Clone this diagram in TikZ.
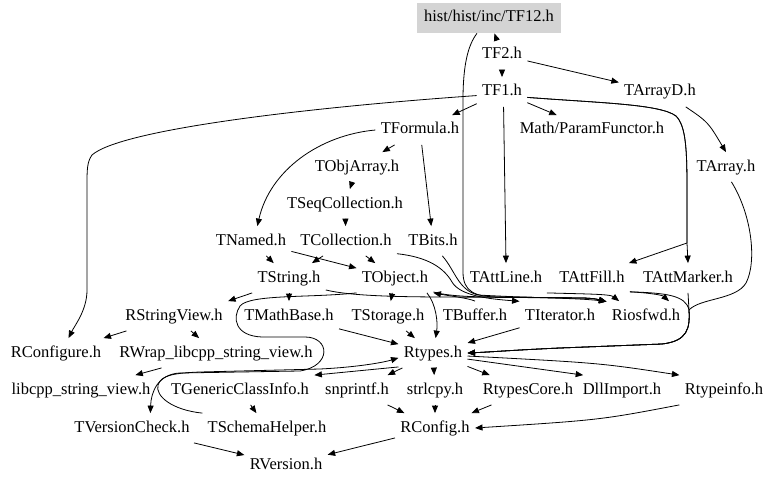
\documentclass[tikz,border=0pt]{standalone}
\usepackage{fontspec}
\setmainfont{Liberation Serif}
\usetikzlibrary{arrows.meta,positioning}
\tikzset{
    %Define standard arrow tip
    >={Triangle[length=7.5pt,width=6pt]},
    %Define style for header boxes
    file/.style={
           rectangle,
           inner xsep=5pt,
           inner ysep=0pt,
           text height=11.5pt,
           text depth=3.5pt,
           minimum height=29pt,
           font=\fontsize{16.5}{18}\selectfont,
           text centered},
    top file/.style={
           file,
           fill=black!17,
           minimum width=144pt,
           minimum height=30pt}
}

\begin{document}
\begin{tikzpicture}[x=1pt,y=-1pt,->,thick,main node/.style={file}, root node/.style={top file}]
\useasboundingbox (0,0) rectangle (768,484);

 %nodes
\node[root node] (tf12) at (489,18) {hist/hist/inc/TF12.h};
\node[main node] (tf2) at (502,55) {TF2.h};
\node[main node] (tf1) at (502,92) {TF1.h};
\node[main node] (tarrayd) at (660,92) {TArrayD.h};
\node[main node] (tformula) at (420,130) {TFormula.h};
\node[main node] (paramf) at (592,130) {Math/ParamFunctor.h};
\node[main node] (tarray) at (726,167) {TArray.h};
\node[main node] (tobjarray) at (357,167) {TObjArray.h};
\node[main node] (tseqcoll) at (345,204) {TSeqCollection.h};
\node[main node] (tnamed) at (251,241) {TNamed.h};
\node[main node] (tcoll) at (346,241) {TCollection.h};
\node[main node] (tbits) at (433,241) {TBits.h};
\node[main node] (tstring) at (289,278) {TString.h};
\node[main node] (tobject) at (395,278) {TObject.h};
\node[main node] (tattline) at (506,278) {TAttLine.h};
\node[main node] (tattfill) at (592,278) {TAttFill.h};
\node[main node] (tattmarker) at (688,278) {TAttMarker.h};
\node[main node] (rstringview) at (174,316) {RStringView.h};
\node[main node] (tmathbase) at (289,316) {TMathBase.h};
\node[main node] (tstorage) at (388,316) {TStorage.h};
\node[main node] (tbuffer) at (475,316) {TBuffer.h};
\node[main node] (titerator) at (560,316) {TIterator.h};
\node[main node] (riosfwd) at (646,316) {Riosfwd.h};
\node[main node] (rconfigure) at (56,353) {RConfigure.h};
\node[main node] (rwrap) at (216,353) {RWrap\_libcpp\_string\_view.h};
\node[main node] (rtypes) at (433,353) {Rtypes.h};
\node[main node] (libcpp) at (81,390) {libcpp\_string\_view.h};
\node[main node] (tgeneric) at (240,390) {TGenericClassInfo.h};
\node[main node] (snprintf) at (357,390) {snprintf.h};
\node[main node] (strlcpy) at (435,390) {strlcpy.h};
\node[main node] (rtypescore) at (528,390) {RtypesCore.h};
\node[main node] (dllimport) at (622,390) {DllImport.h};
\node[main node] (rtypeinfo) at (724,390) {Rtypeinfo.h};
\node[main node] (tversion) at (132,428) {TVersionCheck.h};
\node[main node] (tschema) at (267,428) {TSchemaHelper.h};
\node[main node] (rconfig) at (435,428) {RConfig.h};
\node[main node] (rversion) at (286,465) {RVersion.h};

 %straight includes
\path (tf2) edge (tf12)
      (tf2) edge (tf1)
      (tf2) edge (tarrayd)
      (tf1) edge (tformula)
      (tf1) edge (paramf)
      (tformula) edge (tobjarray)
      (tformula) edge (tbits)
      (tobjarray) edge (tseqcoll)
      (tseqcoll) edge (tcoll)
      (tnamed) edge (tstring)
      (tnamed) edge (tobject)
      (tcoll) edge (tstring)
      (tcoll) edge (tobject)
      (tstring) edge (tmathbase)
      (tobject) edge (tstorage)
      (tmathbase) edge (rtypes)
      (tstorage) edge (rtypes)
      (titerator) edge (rtypes)
      (rstringview) edge (rconfigure)
      (rstringview) edge (rwrap)
      (rwrap) edge (libcpp)
      (rtypes) edge (snprintf)
      (rtypes) edge (strlcpy)
      (rtypes) edge (rtypescore)
      (tgeneric) edge (tschema)
      (snprintf) edge (rconfig)
      (strlcpy) edge (rconfig)
      (rtypescore) edge (rconfig)
      (tversion) edge (rversion)
      (rconfig) edge (rversion);

\draw (tf1.-84) -- (tattline.north);
\draw (tstring.south west) -- (rstringview.north east);
\draw (rtypes.-158) -- (tgeneric.north east);
\draw (rtypes.-10) -- (dllimport.159);
\draw (rtypes.-5) .. controls (600,363) .. (rtypeinfo.north west);
\draw (rtypeinfo.south west) .. controls (600,420) .. (rconfig.east);
\draw (tarrayd.-30) .. controls (708,122) .. (tarray.north);

 %long curves
\draw (tf1.-172) .. controls (300,108) and (120,130) .. (92,155) .. controls (87,162) and (87,170) .. (87,185) -- (87,290) .. controls (87,310) and (75,325) .. (rconfigure.50);
\draw (tformula.west) .. controls (320,135) and (270,170) .. (tnamed.67);
\draw (tf1.-12) .. controls (600,103) and (660,104) .. (676,116) .. controls (686,126) and (687,150) .. (687,190) -- (687,243) -- (tattmarker.north);
\draw (tf1.-12) .. controls (600,103) and (660,104) .. (676,116) .. controls (686,126) and (687,150) .. (687,190) -- (687,243) -- (tattfill.22);
\draw (tf12.-128) .. controls (468,45) and (463,65) .. (463,100) -- (463,272) .. controls (463,292) and (475,297) .. (500,297) -- (580,298) .. controls (595,298) and (600,300) .. (riosfwd.160);
\draw (tbits.-58) .. controls (455,270) and (458,290) .. (478,295) .. controls (530,298) and (580,298) .. (riosfwd.160);
\draw (tstring.-18) .. controls (350,296) and (400,297) .. (450,297) -- (580,298) .. controls (595,298) and (600,300) .. (riosfwd.160);
\draw (tobject.-20) .. controls (448,296) and (470,297) .. (500,297) -- (580,298) .. controls (595,298) and (600,300) .. (riosfwd.160);
\draw (tcoll.-14) .. controls (428,257) and (444,268) .. (452,282) .. controls (460,296) and (490,299) .. (titerator.160);
\draw (tbuffer.north) .. controls (468,298) and (450,296) .. (tobject.south east);
\draw (tobject.-25) .. controls (436,304) and (438,322) .. (rtypes.80);
\draw (tattline.-20) .. controls (585,294) and (610,294) .. (riosfwd.151);
\draw (tattfill.-20) .. controls (650,293) and (662,295) .. (riosfwd.33);
\draw (tattfill.-20) .. controls (665,293) and (686,295) .. (689,310) .. controls (690,328) and (688,341) .. (662,344) -- (560,348) .. controls (515,350) and (490,352) .. (rtypes.east);
\draw (tattmarker.south) -- (689,310) .. controls (690,328) and (688,341) .. (662,344) -- (560,348) .. controls (515,350) and (490,352) .. (rtypes.east);
\draw (tarray.-70) .. controls (752,215) and (757,262) .. (746,283) .. controls (736,300) and (700,298) .. (689,310) .. controls (690,328) and (688,341) .. (662,344) -- (560,348) .. controls (515,350) and (490,352) .. (rtypes.east);
\draw (tobject.south west) .. controls (310,298) and (250,294) .. (240,306) .. controls (232,318) and (235,336) .. (262,337) -- (305,337) .. controls (330,337) and (332,366) .. (300,371) -- (180,373) .. controls (158,374) and (151,392) .. (tversion.39);
\draw (tschema.north west) .. controls (172,410) and (155,396) .. (158,385) .. controls (161,375) and (175,373) .. (200,372) -- (320,369) .. controls (360,367) and (385,362) .. (rtypes.-172);

\end{tikzpicture}
\end{document}
